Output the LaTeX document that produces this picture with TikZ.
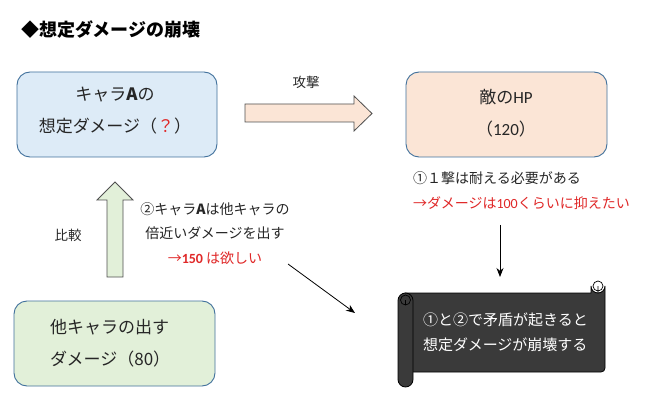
\documentclass[tikz,border=0pt]{standalone}
\usepackage{fontspec}
\setmainfont{Noto Sans CJK JP}
\newfontfamily\lat{Carlito}
\usetikzlibrary{arrows.meta}
\definecolor{boxline}{HTML}{41719C}
\definecolor{bluefill}{HTML}{DDEBF7}
\definecolor{peachfill}{HTML}{FBE5D6}
\definecolor{greenfill}{HTML}{E2F0D9}
\definecolor{scrollfill}{HTML}{3A3A3A}
\definecolor{arrline}{HTML}{505050}
\definecolor{redtxt}{HTML}{E02828}
\tikzset{
  box/.style={draw=boxline, line width=0.9pt, rounded corners=13pt},
  blockarrow/.style={draw=arrline, line width=0.8pt, line join=miter},
  bigtxt/.style={font=\fontsize{17}{32}\selectfont, inner sep=0pt, text=black!85},
  smalltxt/.style={font=\fontsize{14}{24.5}\selectfont, inner sep=0pt, text=black!85},
  labtxt/.style={font=\fontsize{13.5}{16}\selectfont, inner sep=0pt, text=black!85},
  thin arrow/.style={draw=black, line width=0.8pt, -{Stealth[length=9pt,width=7pt]}},
  scrollpart/.style={fill=scrollfill, draw=black, line width=0.8pt}
}
\begin{document}
\begin{tikzpicture}[x=1pt,y=-1pt]
\useasboundingbox (0,0) rectangle (662,409);
\fill[white] (0,0) rectangle (662,409);

% title
\node[anchor=west, inner sep=0pt, font=\fontsize{18}{20}\selectfont\bfseries] (title) at (21,30) {◆想定ダメージの崩壊};

% boxes
\draw[box, fill=bluefill] (17,72) rectangle (217,157);
\node[bigtxt, align=center] (ta) at (115,111) {キャラ{\bfseries A}の\\想定ダメージ（{\color{redtxt}？}）};

\draw[box, fill=peachfill] (406,72) rectangle (607,157);
\node[bigtxt, align=center] (te) at (506,113) {敵の{\lat HP}\\（{\lat 120}）};

\draw[box, fill=greenfill] (14,301) rectangle (215,386);
\node[bigtxt, align=left, anchor=west] (tg) at (50,343) {他キャラの出す\\ダメージ（80）};

% block arrows
\draw[blockarrow, fill=peachfill] (245,104) -- (354,104) -- (354,96) -- (372,113.5) -- (354,131) -- (354,122) -- (245,122) -- cycle;
\node[labtxt] (atk) at (306,82) {攻撃};

\draw[blockarrow, fill=greenfill] (107,277) -- (107,200) -- (97,200) -- (115,182) -- (133,200) -- (123,200) -- (123,277) -- cycle;
\node[labtxt] (cmp) at (68,235) {比較};

% annotations
\node[smalltxt, align=center] (n2) at (215,233.5) {②キャラ{\bfseries A}は他キャラの\\倍近いダメージを出す\\{\color{redtxt}→{\lat\bfseries 150} は欲しい}};
\node[smalltxt, align=left, anchor=west] (n1) at (413,190.5) {①１撃は耐える必要がある\\{\color{redtxt}→ダメージは{\lat 100}くらいに抑えたい}};

% thin arrows
\coordinate (d1) at (500,225);
\coordinate (d2) at (500,277);
\draw[thin arrow] (d1) -- (d2);
\coordinate (g1) at (288,264);
\coordinate (g2) at (355,313);
\draw[thin arrow] (g1) -- (g2);

% scroll
\draw[scrollpart] (405,293) -- (591,293) -- (591,286) arc[start angle=180, end angle=0, radius=7] -- (605,368) arc[start angle=0, end angle=90, radius=4] -- (405,372) -- cycle;
\draw[black, line width=0.7pt] (598,286) circle[radius=5] (598,286) -- (598,293);
\draw[scrollpart, rounded corners=7.5pt] (398,293) rectangle (413,387);
\draw[black, line width=0.7pt] (405.5,300) circle[radius=5] (405.5,300) -- (405.5,305);
\node[font=\fontsize{15}{25}\selectfont, inner sep=0pt, text=white, align=left, anchor=west] (ts) at (423,332.5) {①と②で矛盾が起きると\\想定ダメージが崩壊する};
\end{tikzpicture}
\end{document}
